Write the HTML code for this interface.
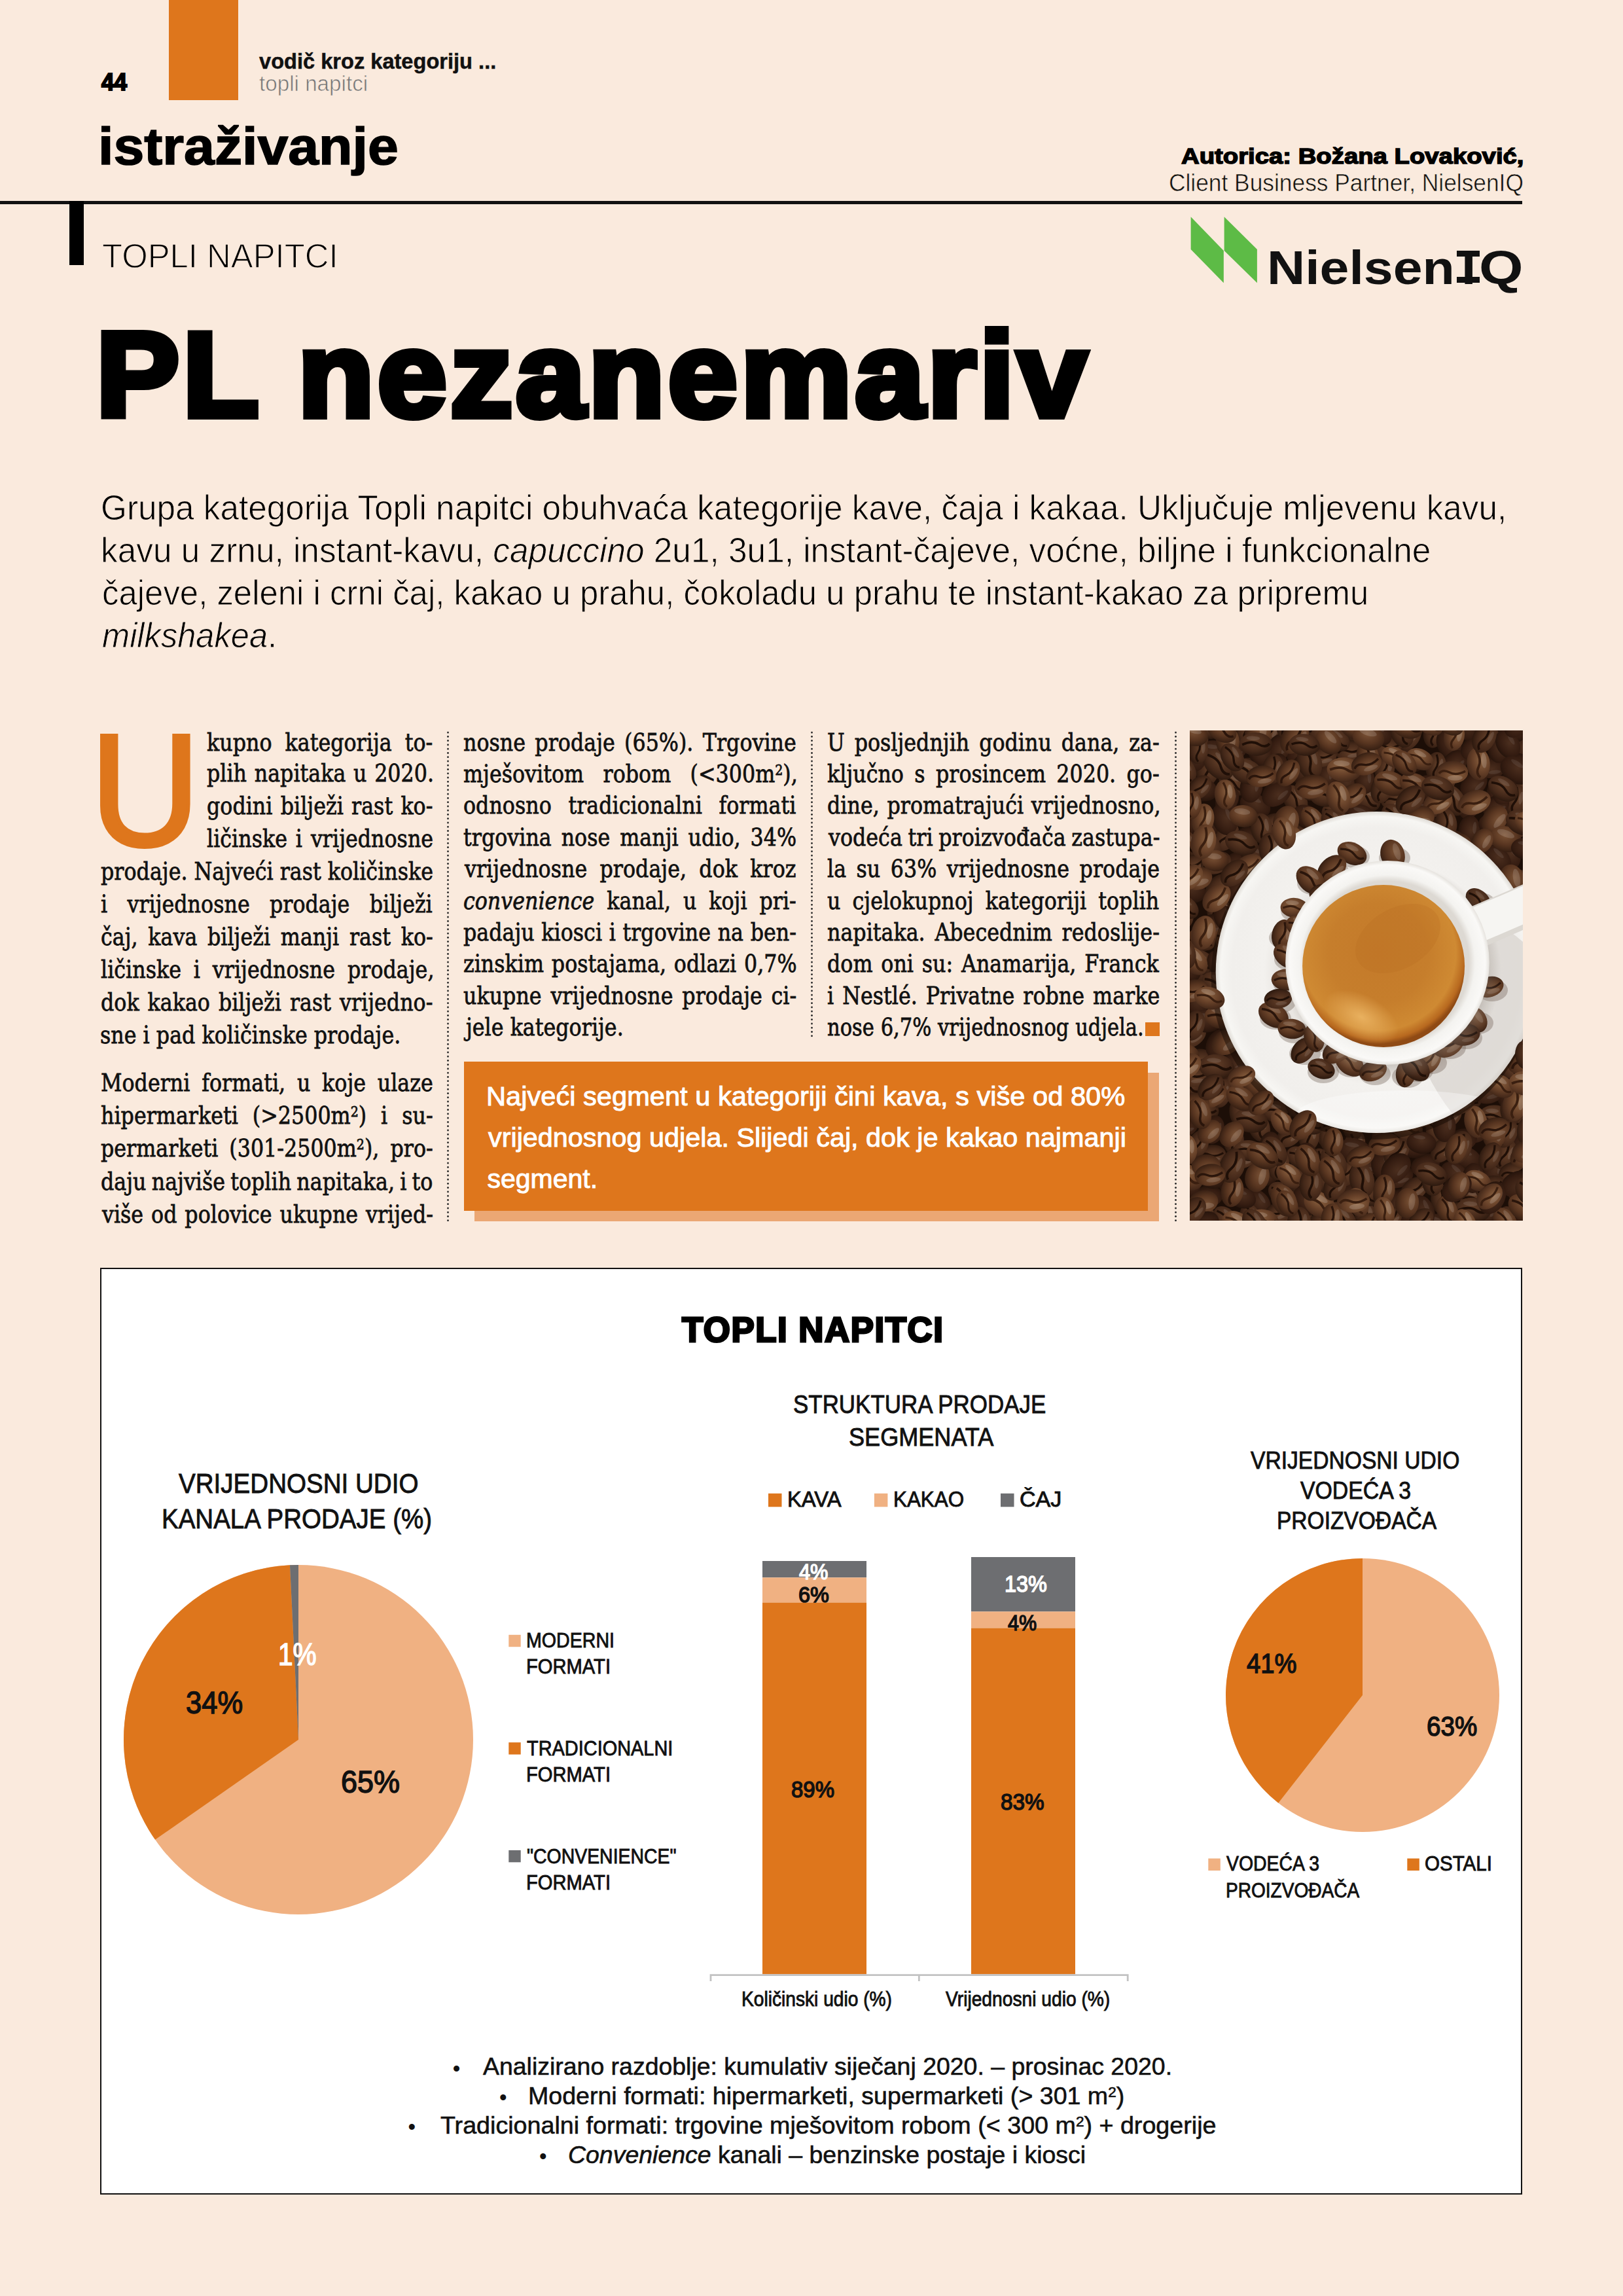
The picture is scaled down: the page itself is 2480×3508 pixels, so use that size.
<!DOCTYPE html>
<html lang="hr"><head><meta charset="utf-8"><title>PL nezanemariv – topli napitci</title>
<style>
html,body{margin:0;padding:0}
body{width:2480px;height:3508px;position:relative;overflow:hidden;background:#FAEADD;}
.t{position:absolute;white-space:nowrap;transform-origin:0 0;margin:0}
.a{position:absolute}
sup{font-size:60%;vertical-align:baseline;position:relative;top:-0.5em;line-height:0}
</style></head><body>
<div class="a" style="left:257.7px;top:0px;width:106.3px;height:153.3px;background:#DE761C;"></div>
<div class="a" style="left:0px;top:307px;width:2326.4px;height:4.6px;background:#111;"></div>
<div class="a" style="left:106px;top:307px;width:22px;height:98px;background:#000;"></div>
<div class="a" style="left:682.5px;top:1115.5px;width:3px;height:752.8px;background:radial-gradient(circle at 50% 50%,#2a2a2a 1.15px,rgba(42,42,42,0) 1.55px) 0 0/3px 6.27px repeat-y"></div>
<div class="a" style="left:1239.1px;top:1115.5px;width:3px;height:470.5px;background:radial-gradient(circle at 50% 50%,#2a2a2a 1.15px,rgba(42,42,42,0) 1.55px) 0 0/3px 6.27px repeat-y"></div>
<div class="a" style="left:1795.2px;top:1115.5px;width:3px;height:752.8px;background:radial-gradient(circle at 50% 50%,#2a2a2a 1.15px,rgba(42,42,42,0) 1.55px) 0 0/3px 6.27px repeat-y"></div>
<div class="a" style="left:725px;top:1638.5px;width:1046px;height:227.8px;background:#EBA774;"></div>
<div class="a" style="left:708.8px;top:1621.8px;width:1045.3px;height:228px;background:#DE761C;"></div>
<div class="a" style="left:1750.2px;top:1562px;width:21.6px;height:21.1px;background:#DE761C;"></div>
<svg class="a" style="left:1810px;top:325px" width="120" height="115" viewBox="1810 325 120 115"><polygon points="1819.6,331.2 1869.8,383 1869.8,432.2 1819.6,381.1" fill="#5DBB46"/><polygon points="1870.6,331.2 1920.9,381.1 1920.9,432.2 1870.6,383" fill="#5DBB46"/></svg>
<div class="a" style="left:2226px;top:383px;width:35.4px;height:9.4px;background:#111;"></div>
<div class="a" style="left:2226px;top:423px;width:35.4px;height:9.4px;background:#111;"></div>
<div class="a" style="left:153.3px;top:1936.8px;width:2168.5px;height:1412.5px;background:#fff;border:2.6px solid #111"></div>
<svg class="a" style="left:0;top:1900px" width="2480" height="1500" viewBox="0 1900 2480 1500"><circle cx="456" cy="2658" r="267" fill="#F0B182"/><path d="M456 2658L237.07 2810.84A267 267 0 0 1 442.96 2391.32Z" fill="#DE761C"/><path d="M456 2658L442.96 2391.32A267 267 0 0 1 456.00 2391.00Z" fill="#6D6E71"/><circle cx="2082" cy="2590" r="209" fill="#F0B182"/><path d="M2082 2590L1953.33 2754.69A209 209 0 0 1 2082.00 2381.00Z" fill="#DE761C"/><rect x="1165" y="2385" width="159" height="25.3" fill="#6D6E71"/><rect x="1165" y="2410.3" width="159" height="38.2" fill="#F0B182"/><rect x="1165" y="2448.5" width="159" height="567.9000000000001" fill="#DE761C"/><rect x="1484" y="2379" width="159" height="83.3" fill="#6D6E71"/><rect x="1484" y="2462.3" width="159" height="25.2" fill="#F0B182"/><rect x="1484" y="2487.5" width="159" height="528.9000000000001" fill="#DE761C"/><path d="M1086 3027V3017.6H1723.2V3027M1404.3 3017.6V3027" fill="none" stroke="#C2C2C2" stroke-width="2.8"/><rect x="777.3" y="2497.8" width="18.4" height="18.4" fill="#F0B182"/><rect x="777.3" y="2662.2" width="18.4" height="18.4" fill="#DE761C"/><rect x="777.3" y="2826.9" width="18.4" height="18.4" fill="#6D6E71"/><rect x="1174" y="2281.8" width="20.5" height="20.5" fill="#DE761C"/><rect x="1335.9" y="2281.8" width="20.5" height="20.5" fill="#F0B182"/><rect x="1529" y="2281.8" width="20.5" height="20.5" fill="#6D6E71"/><rect x="1846.3" y="2839.5" width="18.5" height="18.5" fill="#F0B182"/><rect x="2150.3" y="2839.5" width="18.5" height="18.5" fill="#DE761C"/></svg>
<svg class="a" style="left:1818px;top:1116px" width="509" height="749" viewBox="0 0 509 749"><defs>
<radialGradient id="bg1" cx=".42" cy=".36" r=".7"><stop offset="0" stop-color="#7b5336"/><stop offset=".55" stop-color="#583520"/><stop offset="1" stop-color="#301b10"/></radialGradient>
<radialGradient id="bg2" cx=".45" cy=".38" r=".7"><stop offset="0" stop-color="#644029"/><stop offset=".6" stop-color="#442819"/><stop offset="1" stop-color="#24140b"/></radialGradient>
<radialGradient id="bg3" cx=".4" cy=".35" r=".75"><stop offset="0" stop-color="#8c6341"/><stop offset=".5" stop-color="#664028"/><stop offset="1" stop-color="#382014"/></radialGradient>
<radialGradient id="bg4" cx=".5" cy=".4" r=".7"><stop offset="0" stop-color="#4b2e1e"/><stop offset=".6" stop-color="#341c11"/><stop offset="1" stop-color="#1c0f08"/></radialGradient>
<g id="b1"><ellipse rx="17" ry="12" fill="url(#bg1)"/><path d="M-14 1Q-4 -4 3 0T14 -1" stroke="#2a150b" stroke-width="2.4" fill="none"/><ellipse cx="-3" cy="-6" rx="8" ry="2.6" fill="#fff" opacity=".13"/></g>
<g id="b2"><ellipse rx="17" ry="12" fill="url(#bg2)"/><path d="M-14 1Q-4 -4 3 0T14 -1" stroke="#1f0f07" stroke-width="2.4" fill="none"/><ellipse cx="-3" cy="-6" rx="7" ry="2.2" fill="#fff" opacity=".10"/></g>
<g id="b3"><ellipse rx="17" ry="12" fill="url(#bg3)"/><path d="M-14 1Q-4 -4 3 0T14 -1" stroke="#3a1f10" stroke-width="2.4" fill="none"/><ellipse cx="-3" cy="-6" rx="8" ry="2.8" fill="#fff" opacity=".16"/></g>
<g id="b4"><ellipse rx="17" ry="12.5" fill="url(#bg4)"/><ellipse cx="-3" cy="-6" rx="7" ry="2.2" fill="#fff" opacity=".08"/></g>
<g id="b5"><ellipse rx="16" ry="12.5" fill="url(#bg1)"/><ellipse cx="-2" cy="-5" rx="9" ry="3.4" fill="#fff" opacity=".14"/></g>
<radialGradient id="sau" cx=".5" cy=".5" r=".5"><stop offset="0" stop-color="#e3e0db"/><stop offset=".62" stop-color="#e9e6e2"/><stop offset=".70" stop-color="#f3f1ee"/><stop offset=".9" stop-color="#f1efec"/><stop offset=".97" stop-color="#f7f6f3"/><stop offset="1" stop-color="#dedad4"/></radialGradient>
<radialGradient id="cupg" cx=".5" cy=".5" r=".5"><stop offset="0" stop-color="#d9d5cf"/><stop offset=".80" stop-color="#ddd9d3"/><stop offset=".86" stop-color="#f4f3f0"/><stop offset=".96" stop-color="#faf9f7"/><stop offset="1" stop-color="#e6e3de"/></radialGradient>
<radialGradient id="cof" cx=".47" cy=".42" r=".56"><stop offset="0" stop-color="#c47a2a"/><stop offset=".55" stop-color="#c67e2c"/><stop offset=".85" stop-color="#cf8a33"/><stop offset=".95" stop-color="#b8691f"/><stop offset="1" stop-color="#8f4a14"/></radialGradient>
<radialGradient id="hl" cx=".5" cy=".5" r=".5"><stop offset="0" stop-color="#eeb867" stop-opacity=".85"/><stop offset="1" stop-color="#eeb867" stop-opacity="0"/></radialGradient>
<radialGradient id="shd" cx=".5" cy=".5" r=".5"><stop offset=".8" stop-color="#8a8178" stop-opacity=".45"/><stop offset="1" stop-color="#8a8178" stop-opacity="0"/></radialGradient>
<clipPath id="pc"><rect x="0" y="0" width="509" height="749"/></clipPath>
<clipPath id="sc"><circle cx="285.2" cy="369.5" r="245.5"/></clipPath>
</defs><g clip-path="url(#pc)"><rect width="509" height="749" fill="#1c0e07"/><use href="#b2" transform="translate(161 106)rotate(57)scale(1.42)"/><use href="#b4" transform="translate(334 46)rotate(13)scale(1.48)"/><use href="#b4" transform="translate(21 380)rotate(47)scale(1.48)"/><use href="#b2" transform="translate(10 323)rotate(7)scale(1.37)"/><use href="#b2" transform="translate(27 60)rotate(96)scale(1.46)"/><use href="#b2" transform="translate(215 626)rotate(42)scale(1.36)"/><use href="#b2" transform="translate(55 162)rotate(126)scale(1.45)"/><use href="#b4" transform="translate(322 719)rotate(170)scale(1.45)"/><use href="#b4" transform="translate(506 26)rotate(90)scale(1.32)"/><use href="#b4" transform="translate(444 213)rotate(109)scale(1.35)"/><use href="#b2" transform="translate(66 81)rotate(34)scale(1.38)"/><use href="#b2" transform="translate(153 618)rotate(139)scale(1.33)"/><use href="#b4" transform="translate(280 38)rotate(27)scale(1.38)"/><use href="#b4" transform="translate(22 148)rotate(15)scale(1.26)"/><use href="#b4" transform="translate(268 663)rotate(168)scale(1.48)"/><use href="#b2" transform="translate(509 81)rotate(51)scale(1.42)"/><use href="#b2" transform="translate(11 504)rotate(164)scale(1.41)"/><use href="#b2" transform="translate(434 716)rotate(7)scale(1.28)"/><use href="#b2" transform="translate(22 529)rotate(114)scale(1.49)"/><use href="#b4" transform="translate(332 754)rotate(142)scale(1.33)"/><use href="#b2" transform="translate(21 581)rotate(2)scale(1.39)"/><use href="#b2" transform="translate(197 660)rotate(93)scale(1.26)"/><use href="#b4" transform="translate(423 654)rotate(23)scale(1.37)"/><use href="#b2" transform="translate(497 106)rotate(101)scale(1.41)"/><use href="#b4" transform="translate(83 168)rotate(135)scale(1.41)"/><use href="#b2" transform="translate(494 521)rotate(48)scale(1.38)"/><use href="#b2" transform="translate(466 590)rotate(3)scale(1.46)"/><use href="#b4" transform="translate(45 478)rotate(126)scale(1.46)"/><use href="#b4" transform="translate(100 115)rotate(25)scale(1.43)"/><use href="#b4" transform="translate(170 30)rotate(138)scale(1.48)"/><use href="#b2" transform="translate(-10 106)rotate(94)scale(1.25)"/><use href="#b2" transform="translate(44 270)rotate(118)scale(1.34)"/><use href="#b2" transform="translate(3 662)rotate(143)scale(1.48)"/><use href="#b2" transform="translate(315 104)rotate(165)scale(1.39)"/><use href="#b2" transform="translate(183 84)rotate(86)scale(1.36)"/><use href="#b2" transform="translate(439 754)rotate(35)scale(1.31)"/><use href="#b4" transform="translate(428 114)rotate(119)scale(1.32)"/><use href="#b2" transform="translate(2 721)rotate(48)scale(1.47)"/><use href="#b2" transform="translate(269 103)rotate(40)scale(1.47)"/><use href="#b4" transform="translate(277 11)rotate(60)scale(1.44)"/><use href="#b2" transform="translate(269 742)rotate(77)scale(1.39)"/><use href="#b4" transform="translate(447 525)rotate(150)scale(1.36)"/><use href="#b2" transform="translate(78 584)rotate(81)scale(1.45)"/><use href="#b2" transform="translate(164 162)rotate(160)scale(1.40)"/><use href="#b4" transform="translate(441 610)rotate(135)scale(1.36)"/><use href="#b2" transform="translate(423 559)rotate(32)scale(1.44)"/><use href="#b2" transform="translate(5 205)rotate(158)scale(1.28)"/><use href="#b2" transform="translate(486 750)rotate(80)scale(1.36)"/><use href="#b4" transform="translate(495 270)rotate(50)scale(1.49)"/><use href="#b4" transform="translate(320 682)rotate(158)scale(1.30)"/><use href="#b2" transform="translate(335 605)rotate(96)scale(1.41)"/><use href="#b2" transform="translate(202 718)rotate(123)scale(1.42)"/><use href="#b4" transform="translate(373 121)rotate(113)scale(1.48)"/><use href="#b4" transform="translate(57 106)rotate(118)scale(1.34)"/><use href="#b2" transform="translate(67 626)rotate(90)scale(1.31)"/><use href="#b2" transform="translate(509 495)rotate(82)scale(1.42)"/><use href="#b4" transform="translate(59 1)rotate(136)scale(1.35)"/><use href="#b2" transform="translate(269 708)rotate(41)scale(1.31)"/><use href="#b4" transform="translate(427 152)rotate(95)scale(1.32)"/><use href="#b4" transform="translate(123 215)rotate(152)scale(1.34)"/><use href="#b4" transform="translate(59 690)rotate(78)scale(1.29)"/><use href="#b2" transform="translate(223 131)rotate(35)scale(1.38)"/><use href="#b4" transform="translate(-8 605)rotate(160)scale(1.27)"/><use href="#b2" transform="translate(284 593)rotate(177)scale(1.36)"/><use href="#b4" transform="translate(46 421)rotate(83)scale(1.44)"/><use href="#b4" transform="translate(243 714)rotate(98)scale(1.47)"/><use href="#b4" transform="translate(360 664)rotate(159)scale(1.33)"/><use href="#b4" transform="translate(488 190)rotate(65)scale(1.32)"/><use href="#b2" transform="translate(54 330)rotate(123)scale(1.26)"/><use href="#b2" transform="translate(28 175)rotate(57)scale(1.46)"/><use href="#b4" transform="translate(405 680)rotate(43)scale(1.45)"/><use href="#b2" transform="translate(72 541)rotate(59)scale(1.42)"/><use href="#b4" transform="translate(457 734)rotate(134)scale(1.29)"/><use href="#b4" transform="translate(106 722)rotate(56)scale(1.27)"/><use href="#b4" transform="translate(514 630)rotate(169)scale(1.39)"/><use href="#b2" transform="translate(94 235)rotate(99)scale(1.50)"/><use href="#b2" transform="translate(372 5)rotate(95)scale(1.28)"/><use href="#b4" transform="translate(-0 245)rotate(16)scale(1.47)"/><use href="#b2" transform="translate(24 748)rotate(83)scale(1.38)"/><use href="#b2" transform="translate(407 737)rotate(176)scale(1.35)"/><use href="#b4" transform="translate(133 90)rotate(83)scale(1.30)"/><use href="#b2" transform="translate(213 691)rotate(56)scale(1.47)"/><use href="#b2" transform="translate(423 189)rotate(16)scale(1.35)"/><use href="#b4" transform="translate(37 34)rotate(6)scale(1.49)"/><use href="#b4" transform="translate(28 712)rotate(174)scale(1.33)"/><use href="#b2" transform="translate(34 648)rotate(176)scale(1.25)"/><use href="#b2" transform="translate(255 127)rotate(36)scale(1.27)"/><use href="#b4" transform="translate(174 4)rotate(43)scale(1.42)"/><use href="#b2" transform="translate(122 2)rotate(121)scale(1.33)"/><use href="#b2" transform="translate(252 632)rotate(100)scale(1.33)"/><use href="#b4" transform="translate(19 90)rotate(16)scale(1.41)"/><use href="#b4" transform="translate(139 176)rotate(96)scale(1.32)"/><use href="#b4" transform="translate(505 411)rotate(163)scale(1.43)"/><use href="#b2" transform="translate(-9 283)rotate(96)scale(1.27)"/><use href="#b4" transform="translate(37 297)rotate(173)scale(1.31)"/><use href="#b2" transform="translate(12 7)rotate(75)scale(1.34)"/><use href="#b2" transform="translate(13 632)rotate(113)scale(1.27)"/><use href="#b2" transform="translate(378 615)rotate(54)scale(1.26)"/><use href="#b2" transform="translate(64 393)rotate(21)scale(1.44)"/><use href="#b4" transform="translate(416 626)rotate(163)scale(1.38)"/><use href="#b2" transform="translate(249 -7)rotate(80)scale(1.49)"/><use href="#b4" transform="translate(376 148)rotate(178)scale(1.29)"/><use href="#b4" transform="translate(237 81)rotate(39)scale(1.44)"/><use href="#b4" transform="translate(463 143)rotate(1)scale(1.29)"/><use href="#b2" transform="translate(507 710)rotate(35)scale(1.39)"/><use href="#b4" transform="translate(112 680)rotate(7)scale(1.29)"/><use href="#b4" transform="translate(-8 368)rotate(10)scale(1.48)"/><use href="#b2" transform="translate(-9 567)rotate(90)scale(1.37)"/><use href="#b4" transform="translate(434 82)rotate(137)scale(1.37)"/><use href="#b2" transform="translate(518 443)rotate(179)scale(1.27)"/><use href="#b4" transform="translate(136 27)rotate(118)scale(1.38)"/><use href="#b2" transform="translate(141 709)rotate(37)scale(1.37)"/><use href="#b4" transform="translate(148 558)rotate(113)scale(1.39)"/><use href="#b4" transform="translate(92 60)rotate(11)scale(1.43)"/><use href="#b4" transform="translate(171 60)rotate(98)scale(1.35)"/><use href="#b2" transform="translate(452 7)rotate(26)scale(1.43)"/><use href="#b4" transform="translate(301 -10)rotate(161)scale(1.30)"/><use href="#b2" transform="translate(195 162)rotate(3)scale(1.47)"/><use href="#b2" transform="translate(343 701)rotate(143)scale(1.36)"/><use href="#b2" transform="translate(503 230)rotate(27)scale(1.43)"/><use href="#b2" transform="translate(107 575)rotate(169)scale(1.35)"/><use href="#b2" transform="translate(67 293)rotate(32)scale(1.26)"/><use href="#b4" transform="translate(65 30)rotate(159)scale(1.37)"/><use href="#b4" transform="translate(465 669)rotate(113)scale(1.42)"/><use href="#b4" transform="translate(378 757)rotate(27)scale(1.37)"/><use href="#b2" transform="translate(500 149)rotate(153)scale(1.29)"/><use href="#b2" transform="translate(16 354)rotate(27)scale(1.48)"/><use href="#b4" transform="translate(396 21)rotate(66)scale(1.45)"/><use href="#b4" transform="translate(8 38)rotate(90)scale(1.45)"/><use href="#b2" transform="translate(497 464)rotate(146)scale(1.31)"/><use href="#b4" transform="translate(404 51)rotate(130)scale(1.37)"/><use href="#b4" transform="translate(8 415)rotate(62)scale(1.37)"/><use href="#b2" transform="translate(162 744)rotate(178)scale(1.47)"/><use href="#b4" transform="translate(130 55)rotate(130)scale(1.29)"/><use href="#b2" transform="translate(386 641)rotate(129)scale(1.27)"/><use href="#b4" transform="translate(341 83)rotate(16)scale(1.34)"/><use href="#b2" transform="translate(200 753)rotate(138)scale(1.44)"/><use href="#b4" transform="translate(53 136)rotate(66)scale(1.48)"/><use href="#b4" transform="translate(335 146)rotate(87)scale(1.29)"/><use href="#b4" transform="translate(67 208)rotate(110)scale(1.29)"/><use href="#b2" transform="translate(48 367)rotate(129)scale(1.34)"/><use href="#b4" transform="translate(94 87)rotate(99)scale(1.38)"/><use href="#b2" transform="translate(245 31)rotate(172)scale(1.33)"/><use href="#b2" transform="translate(2 466)rotate(148)scale(1.47)"/><use href="#b2" transform="translate(394 590)rotate(145)scale(1.40)"/><use href="#b2" transform="translate(92 745)rotate(77)scale(1.31)"/><use href="#b4" transform="translate(100 192)rotate(27)scale(1.37)"/><use href="#b4" transform="translate(297 669)rotate(58)scale(1.43)"/><use href="#b4" transform="translate(181 578)rotate(4)scale(1.38)"/><use href="#b2" transform="translate(335 7)rotate(117)scale(1.46)"/><use href="#b2" transform="translate(302 147)rotate(179)scale(1.26)"/><use href="#b4" transform="translate(486 554)rotate(98)scale(1.37)"/><use href="#b2" transform="translate(384 716)rotate(88)scale(1.32)"/><use href="#b4" transform="translate(25 444)rotate(3)scale(1.40)"/><use href="#b2" transform="translate(182 619)rotate(91)scale(1.36)"/><use href="#b2" transform="translate(221 584)rotate(114)scale(1.30)"/><use href="#b4" transform="translate(-9 145)rotate(14)scale(1.26)"/><use href="#b2" transform="translate(250 603)rotate(95)scale(1.38)"/><use href="#b4" transform="translate(461 56)rotate(174)scale(1.36)"/><use href="#b4" transform="translate(458 173)rotate(14)scale(1.40)"/><use href="#b2" transform="translate(510 601)rotate(166)scale(1.40)"/><use href="#b4" transform="translate(65 454)rotate(34)scale(1.32)"/><use href="#b2" transform="translate(87 493)rotate(147)scale(1.42)"/><use href="#b2" transform="translate(101 516)rotate(35)scale(1.35)"/><use href="#b2" transform="translate(55 747)rotate(48)scale(1.34)"/><use href="#b2" transform="translate(106 606)rotate(72)scale(1.35)"/><use href="#b2" transform="translate(481 647)rotate(112)scale(1.43)"/><use href="#b2" transform="translate(312 591)rotate(117)scale(1.38)"/><use href="#b4" transform="translate(342 636)rotate(4)scale(1.41)"/><use href="#b2" transform="translate(169 653)rotate(29)scale(1.32)"/><use href="#b2" transform="translate(509 356)rotate(134)scale(1.34)"/><use href="#b4" transform="translate(208 68)rotate(105)scale(1.31)"/><use href="#b2" transform="translate(376 55)rotate(98)scale(1.30)"/><use href="#b2" transform="translate(78 652)rotate(171)scale(1.45)"/><use href="#b4" transform="translate(36 610)rotate(106)scale(1.31)"/><use href="#b2" transform="translate(398 169)rotate(178)scale(1.45)"/><use href="#b2" transform="translate(491 580)rotate(87)scale(1.39)"/><use href="#b4" transform="translate(433 26)rotate(135)scale(1.27)"/><use href="#b2" transform="translate(46 239)rotate(143)scale(1.45)"/><use href="#b4" transform="translate(107 34)rotate(65)scale(1.36)"/><use href="#b2" transform="translate(158 685)rotate(44)scale(1.41)"/><use href="#b2" transform="translate(126 145)rotate(157)scale(1.43)"/><use href="#b2" transform="translate(72 249)rotate(140)scale(1.38)"/><use href="#b2" transform="translate(316 644)rotate(128)scale(1.40)"/><use href="#b4" transform="translate(474 88)rotate(138)scale(1.33)"/><use href="#b2" transform="translate(298 58)rotate(103)scale(1.27)"/><use href="#b2" transform="translate(477 239)rotate(139)scale(1.35)"/><use href="#b4" transform="translate(176 719)rotate(62)scale(1.38)"/><use href="#b4" transform="translate(517 254)rotate(29)scale(1.32)"/><use href="#b4" transform="translate(180 133)rotate(33)scale(1.40)"/><use href="#b2" transform="translate(203 40)rotate(164)scale(1.31)"/><use href="#b2" transform="translate(133 583)rotate(10)scale(1.38)"/><use href="#b2" transform="translate(515 567)rotate(131)scale(1.28)"/><use href="#b2" transform="translate(476 486)rotate(113)scale(1.40)"/><use href="#b2" transform="translate(224 736)rotate(2)scale(1.29)"/><use href="#b4" transform="translate(468 116)rotate(149)scale(1.26)"/><use href="#b2" transform="translate(223 654)rotate(31)scale(1.40)"/><use href="#b2" transform="translate(390 78)rotate(114)scale(1.29)"/><use href="#b4" transform="translate(492 1)rotate(23)scale(1.30)"/><use href="#b2" transform="translate(302 24)rotate(179)scale(1.29)"/><use href="#b2" transform="translate(297 749)rotate(180)scale(1.39)"/><use href="#b2" transform="translate(366 577)rotate(141)scale(1.44)"/><use href="#b2" transform="translate(47 554)rotate(105)scale(1.35)"/><use href="#b4" transform="translate(-5 691)rotate(54)scale(1.46)"/><use href="#b4" transform="translate(457 552)rotate(165)scale(1.44)"/><use href="#b2" transform="translate(207 100)rotate(4)scale(1.40)"/><use href="#b2" transform="translate(518 -6)rotate(68)scale(1.27)"/><use href="#b4" transform="translate(471 28)rotate(82)scale(1.29)"/><use href="#b2" transform="translate(241 675)rotate(127)scale(1.42)"/><use href="#b4" transform="translate(-7 750)rotate(25)scale(1.39)"/><use href="#b4" transform="translate(341 116)rotate(138)scale(1.40)"/><use href="#b4" transform="translate(80 714)rotate(19)scale(1.27)"/><use href="#b4" transform="translate(123 635)rotate(92)scale(1.30)"/><use href="#b4" transform="translate(54 515)rotate(160)scale(1.40)"/><use href="#b2" transform="translate(494 675)rotate(164)scale(1.31)"/><use href="#b2" transform="translate(294 625)rotate(77)scale(1.28)"/><use href="#b4" transform="translate(509 326)rotate(104)scale(1.37)"/><use href="#b2" transform="translate(200 -4)rotate(161)scale(1.26)"/><use href="#b2" transform="translate(459 698)rotate(157)scale(1.39)"/><use href="#b4" transform="translate(355 734)rotate(67)scale(1.46)"/><use href="#b4" transform="translate(267 76)rotate(88)scale(1.26)"/><use href="#b2" transform="translate(85 -2)rotate(89)scale(1.41)"/><use href="#b4" transform="translate(30 680)rotate(29)scale(1.48)"/><use href="#b4" transform="translate(130 537)rotate(111)scale(1.49)"/><use href="#b2" transform="translate(484 616)rotate(115)scale(1.33)"/><use href="#b2" transform="translate(40 202)rotate(161)scale(1.40)"/><use href="#b4" transform="translate(496 53)rotate(140)scale(1.26)"/><use href="#b2" transform="translate(293 89)rotate(105)scale(1.35)"/><use href="#b2" transform="translate(-4 172)rotate(54)scale(1.30)"/><use href="#b2" transform="translate(402 107)rotate(60)scale(1.48)"/><use href="#b2" transform="translate(296 708)rotate(106)scale(1.26)"/><use href="#b2" transform="translate(-8 61)rotate(60)scale(1.35)"/><use href="#b4" transform="translate(367 91)rotate(61)scale(1.41)"/><use href="#b4" transform="translate(519 291)rotate(84)scale(1.35)"/><use href="#b4" transform="translate(99 545)rotate(153)scale(1.31)"/><use href="#b4" transform="translate(514 758)rotate(54)scale(1.34)"/><use href="#b4" transform="translate(433 684)rotate(94)scale(1.35)"/><use href="#b2" transform="translate(134 737)rotate(156)scale(1.28)"/><use href="#b2" transform="translate(-3 540)rotate(42)scale(1.37)"/><use href="#b2" transform="translate(371 688)rotate(87)scale(1.37)"/><use href="#b2" transform="translate(225 14)rotate(36)scale(1.27)"/><use href="#b2" transform="translate(135 663)rotate(95)scale(1.43)"/><use href="#b2" transform="translate(150 -9)rotate(120)scale(1.28)"/><use href="#b4" transform="translate(423 -8)rotate(86)scale(1.36)"/><use href="#b2" transform="translate(306 747)rotate(132)scale(1.26)"/><use href="#b1" transform="translate(407 173)rotate(173)scale(1.34)"/><use href="#b5" transform="translate(249 597)rotate(128)scale(1.33)"/><use href="#b5" transform="translate(147 140)rotate(106)scale(1.57)"/><use href="#b5" transform="translate(39 199)rotate(6)scale(1.30)"/><use href="#b1" transform="translate(144 718)rotate(63)scale(1.54)"/><use href="#b4" transform="translate(74 251)rotate(73)scale(1.49)"/><use href="#b3" transform="translate(152 680)rotate(42)scale(1.33)"/><use href="#b4" transform="translate(486 21)rotate(59)scale(1.38)"/><use href="#b4" transform="translate(469 197)rotate(44)scale(1.48)"/><use href="#b2" transform="translate(263 687)rotate(76)scale(1.57)"/><use href="#b3" transform="translate(404 9)rotate(101)scale(1.31)"/><use href="#b2" transform="translate(433 733)rotate(4)scale(1.59)"/><use href="#b2" transform="translate(-6 270)rotate(38)scale(1.28)"/><use href="#b2" transform="translate(90 642)rotate(5)scale(1.33)"/><use href="#b3" transform="translate(435 110)rotate(160)scale(1.51)"/><use href="#b4" transform="translate(44 357)rotate(59)scale(1.28)"/><use href="#b1" transform="translate(65 704)rotate(100)scale(1.43)"/><use href="#b1" transform="translate(297 632)rotate(168)scale(1.43)"/><use href="#b1" transform="translate(307 81)rotate(19)scale(1.52)"/><use href="#b5" transform="translate(212 17)rotate(46)scale(1.37)"/><use href="#b5" transform="translate(-9 112)rotate(37)scale(1.27)"/><use href="#b3" transform="translate(111 749)rotate(4)scale(1.45)"/><use href="#b4" transform="translate(261 131)rotate(18)scale(1.40)"/><use href="#b3" transform="translate(401 64)rotate(179)scale(1.44)"/><use href="#b1" transform="translate(160 11)rotate(124)scale(1.59)"/><use href="#b1" transform="translate(512 649)rotate(151)scale(1.41)"/><use href="#b5" transform="translate(466 136)rotate(129)scale(1.45)"/><use href="#b2" transform="translate(183 601)rotate(21)scale(1.30)"/><use href="#b2" transform="translate(369 678)rotate(18)scale(1.45)"/><use href="#b1" transform="translate(35 558)rotate(150)scale(1.40)"/><use href="#b4" transform="translate(133 95)rotate(139)scale(1.49)"/><use href="#b2" transform="translate(508 452)rotate(63)scale(1.57)"/><use href="#b3" transform="translate(497 571)rotate(100)scale(1.54)"/><use href="#b1" transform="translate(4 573)rotate(172)scale(1.56)"/><use href="#b4" transform="translate(389 605)rotate(89)scale(1.41)"/><use href="#b3" transform="translate(199 725)rotate(31)scale(1.55)"/><use href="#b3" transform="translate(20 136)rotate(99)scale(1.43)"/><use href="#b2" transform="translate(93 596)rotate(9)scale(1.55)"/><use href="#b1" transform="translate(19 319)rotate(34)scale(1.26)"/><use href="#b2" transform="translate(167 754)rotate(90)scale(1.54)"/><use href="#b5" transform="translate(106 543)rotate(31)scale(1.55)"/><use href="#b3" transform="translate(474 543)rotate(32)scale(1.37)"/><use href="#b2" transform="translate(183 49)rotate(74)scale(1.56)"/><use href="#b1" transform="translate(469 504)rotate(108)scale(1.54)"/><use href="#b1" transform="translate(188 136)rotate(52)scale(1.28)"/><use href="#b5" transform="translate(30 613)rotate(136)scale(1.27)"/><use href="#b2" transform="translate(324 3)rotate(67)scale(1.42)"/><use href="#b1" transform="translate(248 100)rotate(144)scale(1.39)"/><use href="#b3" transform="translate(330 605)rotate(25)scale(1.60)"/><use href="#b3" transform="translate(21 170)rotate(102)scale(1.58)"/><use href="#b1" transform="translate(272 40)rotate(80)scale(1.42)"/><use href="#b1" transform="translate(78 562)rotate(33)scale(1.42)"/><use href="#b5" transform="translate(21 720)rotate(173)scale(1.40)"/><use href="#b4" transform="translate(499 61)rotate(34)scale(1.55)"/><use href="#b5" transform="translate(104 2)rotate(93)scale(1.60)"/><use href="#b4" transform="translate(315 669)rotate(134)scale(1.54)"/><use href="#b2" transform="translate(313 134)rotate(52)scale(1.44)"/><use href="#b2" transform="translate(353 749)rotate(137)scale(1.31)"/><use href="#b2" transform="translate(15 87)rotate(133)scale(1.25)"/><use href="#b3" transform="translate(440 688)rotate(24)scale(1.26)"/><use href="#b2" transform="translate(44 52)rotate(45)scale(1.60)"/><use href="#b2" transform="translate(234 747)rotate(45)scale(1.41)"/><use href="#b2" transform="translate(79 172)rotate(18)scale(1.51)"/><use href="#b4" transform="translate(180 651)rotate(77)scale(1.27)"/><use href="#b5" transform="translate(492 230)rotate(81)scale(1.58)"/><use href="#b3" transform="translate(72 753)rotate(31)scale(1.40)"/><use href="#b4" transform="translate(74 506)rotate(175)scale(1.37)"/><use href="#b3" transform="translate(352 44)rotate(27)scale(1.29)"/><use href="#b4" transform="translate(501 693)rotate(158)scale(1.54)"/><use href="#b3" transform="translate(437 598)rotate(78)scale(1.45)"/><use href="#b2" transform="translate(222 696)rotate(115)scale(1.38)"/><use href="#b3" transform="translate(441 51)rotate(85)scale(1.48)"/><use href="#b2" transform="translate(450 11)rotate(117)scale(1.43)"/><use href="#b1" transform="translate(186 86)rotate(171)scale(1.52)"/><use href="#b5" transform="translate(12 226)rotate(165)scale(1.41)"/><use href="#b3" transform="translate(236 60)rotate(4)scale(1.56)"/><use href="#b2" transform="translate(185 694)rotate(91)scale(1.46)"/><use href="#b4" transform="translate(482 94)rotate(129)scale(1.26)"/><use href="#b1" transform="translate(48 438)rotate(8)scale(1.50)"/><use href="#b2" transform="translate(392 142)rotate(81)scale(1.35)"/><use href="#b3" transform="translate(89 208)rotate(149)scale(1.41)"/><use href="#b2" transform="translate(412 637)rotate(112)scale(1.53)"/><use href="#b3" transform="translate(-5 682)rotate(26)scale(1.58)"/><use href="#b2" transform="translate(65 665)rotate(111)scale(1.58)"/><use href="#b2" transform="translate(13 30)rotate(94)scale(1.26)"/><use href="#b2" transform="translate(42 390)rotate(32)scale(1.55)"/><use href="#b2" transform="translate(7 527)rotate(174)scale(1.48)"/><use href="#b5" transform="translate(25 665)rotate(180)scale(1.39)"/><use href="#b2" transform="translate(127 59)rotate(99)scale(1.36)"/><use href="#b3" transform="translate(7 352)rotate(51)scale(1.43)"/><use href="#b1" transform="translate(269 757)rotate(137)scale(1.36)"/><use href="#b3" transform="translate(379 110)rotate(152)scale(1.39)"/><use href="#b1" transform="translate(482 750)rotate(54)scale(1.34)"/><use href="#b1" transform="translate(509 260)rotate(13)scale(1.38)"/><use href="#b3" transform="translate(54 98)rotate(85)scale(1.34)"/><use href="#b2" transform="translate(110 150)rotate(80)scale(1.40)"/><use href="#b4" transform="translate(251 643)rotate(9)scale(1.56)"/><use href="#b5" transform="translate(465 618)rotate(92)scale(1.40)"/><use href="#b2" transform="translate(459 651)rotate(116)scale(1.34)"/><use href="#b2" transform="translate(414 569)rotate(152)scale(1.38)"/><use href="#b3" transform="translate(141 599)rotate(56)scale(1.26)"/><use href="#b4" transform="translate(21 756)rotate(146)scale(1.51)"/><use href="#b2" transform="translate(515 316)rotate(30)scale(1.55)"/><use href="#b2" transform="translate(87 63)rotate(25)scale(1.53)"/><use href="#b5" transform="translate(483 166)rotate(21)scale(1.54)"/><use href="#b2" transform="translate(123 181)rotate(87)scale(1.46)"/><use href="#b2" transform="translate(508 141)rotate(23)scale(1.53)"/><use href="#b5" transform="translate(-6 452)rotate(54)scale(1.31)"/><use href="#b1" transform="translate(393 733)rotate(70)scale(1.31)"/><use href="#b4" transform="translate(513 181)rotate(10)scale(1.31)"/><use href="#b5" transform="translate(56 476)rotate(148)scale(1.50)"/><use href="#b4" transform="translate(288 5)rotate(35)scale(1.30)"/><use href="#b1" transform="translate(510 504)rotate(147)scale(1.53)"/><use href="#b4" transform="translate(462 714)rotate(119)scale(1.55)"/><use href="#b3" transform="translate(-5 640)rotate(87)scale(1.36)"/><use href="#b4" transform="translate(55 288)rotate(58)scale(1.33)"/><use href="#b1" transform="translate(344 83)rotate(23)scale(1.42)"/><use href="#b1" transform="translate(61 321)rotate(24)scale(1.49)"/><use href="#b1" transform="translate(-8 494)rotate(12)scale(1.33)"/><use href="#b5" transform="translate(332 722)rotate(97)scale(1.44)"/><use href="#b2" transform="translate(129 643)rotate(56)scale(1.44)"/><use href="#b5" transform="translate(352 132)rotate(175)scale(1.38)"/><use href="#b2" transform="translate(519 400)rotate(55)scale(1.51)"/><use href="#b4" transform="translate(499 -9)rotate(126)scale(1.29)"/><use href="#b3" transform="translate(257 721)rotate(70)scale(1.33)"/><use href="#b2" transform="translate(161 570)rotate(75)scale(1.30)"/><use href="#b4" transform="translate(408 699)rotate(140)scale(1.49)"/><use href="#b4" transform="translate(354 630)rotate(7)scale(1.34)"/><use href="#b3" transform="translate(514 539)rotate(3)scale(1.57)"/><use href="#b1" transform="translate(4 398)rotate(163)scale(1.39)"/><use href="#b5" transform="translate(58 17)rotate(88)scale(1.43)"/><use href="#b5" transform="translate(82 131)rotate(7)scale(1.36)"/><use href="#b1" transform="translate(510 730)rotate(38)scale(1.53)"/><use href="#b2" transform="translate(41 514)rotate(5)scale(1.59)"/><use href="#b2" transform="translate(517 615)rotate(82)scale(1.41)"/><use href="#b3" transform="translate(157 172)rotate(91)scale(1.47)"/><use href="#b3" transform="translate(41 256)rotate(134)scale(1.48)"/><use href="#b2" transform="translate(221 142)rotate(52)scale(1.44)"/><use href="#b1" transform="translate(297 702)rotate(94)scale(1.39)"/><use href="#b2" transform="translate(215 627)rotate(71)scale(1.35)"/><use href="#b1" transform="translate(297 597)rotate(46)scale(1.32)"/><use href="#b2" transform="translate(29 -3)rotate(10)scale(1.31)"/><use href="#b5" transform="translate(447 169)rotate(120)scale(1.25)"/><use href="#b1" transform="translate(-5 -9)rotate(69)scale(1.45)"/><use href="#b5" transform="translate(251 -6)rotate(36)scale(1.46)"/><use href="#b5" transform="translate(103 682)rotate(105)scale(1.48)"/><use href="#b5" transform="translate(64 617)rotate(130)scale(1.33)"/><use href="#b3" transform="translate(367 -9)rotate(31)scale(1.26)"/><use href="#b5" transform="translate(359 588)rotate(136)scale(1.27)"/><use href="#b2" transform="translate(220 660)rotate(56)scale(1.49)"/><use href="#b3" transform="translate(313 41)rotate(27)scale(1.27)"/><circle cx="281.2" cy="376.5" r="248.5" fill="#1a0d06" opacity=".55"/><circle cx="285.2" cy="369.5" r="245.5" fill="url(#sau)"/><g clip-path="url(#sc)"><ellipse cx="470" cy="470" rx="120" ry="200" fill="#cfcac4" opacity=".55" transform="rotate(-25 470 470)"/><ellipse cx="330" cy="590" rx="170" ry="40" fill="#fff" opacity=".35"/></g><use href="#b2" transform="translate(101 21)rotate(2)scale(1.49)"/><use href="#b1" transform="translate(217 746)rotate(94)scale(1.37)"/><use href="#b3" transform="translate(250 719)rotate(174)scale(1.48)"/><use href="#b2" transform="translate(519 706)rotate(50)scale(1.52)"/><use href="#b2" transform="translate(337 106)rotate(137)scale(1.51)"/><use href="#b1" transform="translate(109 70)rotate(170)scale(1.36)"/><use href="#b1" transform="translate(109 569)rotate(137)scale(1.31)"/><use href="#b1" transform="translate(180 657)rotate(64)scale(1.50)"/><use href="#b1" transform="translate(150 65)rotate(126)scale(1.32)"/><use href="#b1" transform="translate(31 679)rotate(173)scale(1.39)"/><use href="#b1" transform="translate(149 723)rotate(62)scale(1.26)"/><use href="#b1" transform="translate(111 650)rotate(30)scale(1.53)"/><use href="#b1" transform="translate(261 651)rotate(158)scale(1.30)"/><use href="#b3" transform="translate(297 735)rotate(76)scale(1.33)"/><use href="#b5" transform="translate(411 695)rotate(105)scale(1.31)"/><use href="#b3" transform="translate(-1 225)rotate(140)scale(1.41)"/><use href="#b1" transform="translate(270 51)rotate(161)scale(1.40)"/><use href="#b2" transform="translate(6 451)rotate(110)scale(1.38)"/><use href="#b2" transform="translate(479 89)rotate(32)scale(1.46)"/><use href="#b5" transform="translate(7 7)rotate(18)scale(1.32)"/><use href="#b2" transform="translate(32 545)rotate(133)scale(1.36)"/><use href="#b3" transform="translate(458 712)rotate(135)scale(1.35)"/><use href="#b1" transform="translate(398 -9)rotate(29)scale(1.26)"/><use href="#b2" transform="translate(513 496)rotate(83)scale(1.31)"/><use href="#b3" transform="translate(21 309)rotate(101)scale(1.54)"/><use href="#b3" transform="translate(79 529)rotate(156)scale(1.30)"/><use href="#b1" transform="translate(15 585)rotate(73)scale(1.45)"/><use href="#b1" transform="translate(332 -6)rotate(21)scale(1.47)"/><use href="#b2" transform="translate(99 753)rotate(58)scale(1.40)"/><use href="#b1" transform="translate(217 675)rotate(60)scale(1.50)"/><use href="#b3" transform="translate(517 142)rotate(31)scale(1.28)"/><use href="#b2" transform="translate(5 734)rotate(131)scale(1.39)"/><use href="#b3" transform="translate(227 103)rotate(73)scale(1.50)"/><use href="#b1" transform="translate(49 0)rotate(31)scale(1.41)"/><use href="#b2" transform="translate(-9 340)rotate(71)scale(1.48)"/><use href="#b2" transform="translate(68 218)rotate(137)scale(1.42)"/><use href="#b1" transform="translate(219 629)rotate(93)scale(1.29)"/><use href="#b2" transform="translate(65 41)rotate(59)scale(1.36)"/><use href="#b5" transform="translate(514 643)rotate(163)scale(1.38)"/><use href="#b3" transform="translate(144 157)rotate(75)scale(1.46)"/><use href="#b1" transform="translate(407 639)rotate(107)scale(1.39)"/><use href="#b2" transform="translate(379 88)rotate(16)scale(1.50)"/><use href="#b3" transform="translate(-5 514)rotate(142)scale(1.46)"/><use href="#b3" transform="translate(421 753)rotate(64)scale(1.34)"/><use href="#b2" transform="translate(175 22)rotate(7)scale(1.39)"/><use href="#b1" transform="translate(465 609)rotate(164)scale(1.43)"/><use href="#b1" transform="translate(173 603)rotate(128)scale(1.48)"/><use href="#b1" transform="translate(328 50)rotate(48)scale(1.31)"/><use href="#b5" transform="translate(273 11)rotate(18)scale(1.54)"/><use href="#b3" transform="translate(30 409)rotate(16)scale(1.40)"/><use href="#b1" transform="translate(2 114)rotate(96)scale(1.32)"/><ellipse cx="251" cy="193" rx="24" ry="17" fill="#6b5a4c" opacity=".35"/><ellipse cx="313" cy="195" rx="24" ry="17" fill="#6b5a4c" opacity=".35"/><ellipse cx="220" cy="217" rx="24" ry="17" fill="#6b5a4c" opacity=".35"/><ellipse cx="188" cy="234" rx="24" ry="17" fill="#6b5a4c" opacity=".35"/><ellipse cx="163" cy="276" rx="24" ry="17" fill="#6b5a4c" opacity=".35"/><ellipse cx="145" cy="317" rx="24" ry="17" fill="#6b5a4c" opacity=".35"/><ellipse cx="151" cy="386" rx="24" ry="17" fill="#6b5a4c" opacity=".35"/><ellipse cx="131" cy="440" rx="24" ry="17" fill="#6b5a4c" opacity=".35"/><ellipse cx="160" cy="461" rx="24" ry="17" fill="#6b5a4c" opacity=".35"/><ellipse cx="176" cy="494" rx="24" ry="17" fill="#6b5a4c" opacity=".35"/><ellipse cx="204" cy="522" rx="24" ry="17" fill="#6b5a4c" opacity=".35"/><ellipse cx="247" cy="513" rx="24" ry="17" fill="#6b5a4c" opacity=".35"/><ellipse cx="333" cy="529" rx="24" ry="17" fill="#6b5a4c" opacity=".35"/><ellipse cx="369" cy="508" rx="24" ry="17" fill="#6b5a4c" opacity=".35"/><ellipse cx="440" cy="447" rx="24" ry="17" fill="#6b5a4c" opacity=".35"/><ellipse cx="462" cy="397" rx="24" ry="17" fill="#6b5a4c" opacity=".35"/><ellipse cx="444" cy="265" rx="24" ry="17" fill="#6b5a4c" opacity=".35"/><ellipse cx="153" cy="350" rx="24" ry="17" fill="#6b5a4c" opacity=".35"/><ellipse cx="138" cy="415" rx="24" ry="17" fill="#6b5a4c" opacity=".35"/><ellipse cx="193" cy="475" rx="24" ry="17" fill="#6b5a4c" opacity=".35"/><ellipse cx="228" cy="495" rx="24" ry="17" fill="#6b5a4c" opacity=".35"/><ellipse cx="283" cy="525" rx="24" ry="17" fill="#6b5a4c" opacity=".35"/><ellipse cx="398" cy="485" rx="24" ry="17" fill="#6b5a4c" opacity=".35"/><ellipse cx="423" cy="470" rx="24" ry="17" fill="#6b5a4c" opacity=".35"/><ellipse cx="208" cy="255" rx="24" ry="17" fill="#6b5a4c" opacity=".35"/><ellipse cx="171" cy="305" rx="24" ry="17" fill="#6b5a4c" opacity=".35"/><ellipse cx="348" cy="520" rx="24" ry="17" fill="#6b5a4c" opacity=".35"/><use href="#b1" transform="translate(248 188)rotate(25)scale(1.38)"/><use href="#b5" transform="translate(310 190)rotate(73)scale(1.47)"/><use href="#b1" transform="translate(217 212)rotate(137)scale(1.49)"/><use href="#b1" transform="translate(185 229)rotate(42)scale(1.50)"/><use href="#b3" transform="translate(160 271)rotate(4)scale(1.26)"/><use href="#b1" transform="translate(142 312)rotate(103)scale(1.38)"/><use href="#b1" transform="translate(148 381)rotate(2)scale(1.37)"/><use href="#b1" transform="translate(128 435)rotate(32)scale(1.46)"/><use href="#b1" transform="translate(156 456)rotate(5)scale(1.27)"/><use href="#b2" transform="translate(173 489)rotate(129)scale(1.31)"/><use href="#b2" transform="translate(201 517)rotate(20)scale(1.25)"/><use href="#b3" transform="translate(244 508)rotate(41)scale(1.45)"/><use href="#b1" transform="translate(330 524)rotate(97)scale(1.26)"/><use href="#b3" transform="translate(366 503)rotate(119)scale(1.38)"/><use href="#b5" transform="translate(437 442)rotate(58)scale(1.30)"/><use href="#b1" transform="translate(458 392)rotate(163)scale(1.29)"/><use href="#b2" transform="translate(441 260)rotate(43)scale(1.30)"/><use href="#b1" transform="translate(150 345)rotate(34)scale(1.41)"/><use href="#b2" transform="translate(135 410)rotate(173)scale(1.26)"/><use href="#b1" transform="translate(190 470)rotate(74)scale(1.27)"/><use href="#b1" transform="translate(225 490)rotate(148)scale(1.41)"/><use href="#b1" transform="translate(280 520)rotate(159)scale(1.28)"/><use href="#b1" transform="translate(395 480)rotate(151)scale(1.49)"/><use href="#b2" transform="translate(420 465)rotate(172)scale(1.39)"/><use href="#b1" transform="translate(205 250)rotate(178)scale(1.32)"/><use href="#b1" transform="translate(168 300)rotate(24)scale(1.30)"/><use href="#b2" transform="translate(345 515)rotate(42)scale(1.45)"/><circle cx="310" cy="366.9" r="165.8" fill="url(#shd)"/><path d="M428 305L528 262" stroke="#dcd8d2" stroke-width="64" fill="none"/><path d="M428 302L528 259" stroke="#f6f5f2" stroke-width="54" fill="none"/><circle cx="302" cy="354.9" r="155.8" fill="url(#cupg)"/><circle cx="296.1" cy="360" r="124" fill="url(#cof)"/><ellipse cx="262" cy="438" rx="62" ry="34" fill="url(#hl)" transform="rotate(28 262 438)"/><ellipse cx="318" cy="318" rx="70" ry="46" fill="#b86a20" opacity=".25" transform="rotate(-30 318 318)"/></g></svg>
<div class="t " style="left:154.9px;top:106.7px;font:700 37px 'Liberation Sans',sans-serif;line-height:1;color:#000;-webkit-text-stroke:2.2px #000;transform:scaleX(0.9442);">44</div>
<div class="t " style="left:396.0px;top:76.6px;font:700 33px 'Liberation Sans',sans-serif;line-height:1;color:#111;-webkit-text-stroke:0.5px #111;transform:scaleX(0.9877);">vodič kroz kategoriju ...</div>
<div class="t " style="left:396.0px;top:110.6px;font:400 33px 'Liberation Sans',sans-serif;line-height:1;color:#727477;-webkit-text-stroke:0.7px #FAEADD;transform:scaleX(1.0061);">topli napitci</div>
<div class="t " style="left:150.4px;top:184.2px;font:700 79px 'Liberation Sans',sans-serif;line-height:1;color:#000;-webkit-text-stroke:1.6px #000;transform:scaleX(1.0660);">istraživanje</div>
<div class="t " style="left:155.7px;top:365.1px;font:400 52px 'Liberation Sans',sans-serif;line-height:1;color:#000;-webkit-text-stroke:1.3px #FAEADD;transform:scaleX(0.9774);">TOPLI NAPITCI</div>
<div class="t " style="left:146.8px;top:479.5px;font:700 184px 'Liberation Sans',sans-serif;line-height:1;color:#000;-webkit-text-stroke:10px #000;letter-spacing:5px;transform:scaleX(1.0349);">PL nezanemariv</div>
<div class="t " style="left:1804.5px;top:220.8px;font:700 34px 'Liberation Sans',sans-serif;line-height:1;color:#000;-webkit-text-stroke:1.5px #000;transform:scaleX(1.1263);">Autorica: Božana Lovaković,</div>
<div class="t " style="left:1785.5px;top:260.8px;font:400 37.6px 'Liberation Sans',sans-serif;line-height:1;color:#111;-webkit-text-stroke:0.6px #FAEADD;transform:scaleX(0.9400);">Client Business Partner, NielsenIQ</div>
<div class="t " style="left:1936.4px;top:371.6px;font:700 73px 'Liberation Sans',sans-serif;line-height:1;color:#111;transform:scaleX(1.1044);">Nielsen</div>
<div class="t " style="left:2232.9px;top:371.6px;font:700 73px 'Liberation Sans',sans-serif;line-height:1;color:#111;transform:scaleX(1.1000);">I</div>
<div class="t " style="left:2260.4px;top:371.6px;font:700 73px 'Liberation Sans',sans-serif;line-height:1;color:#111;transform:scaleX(1.1882);">Q</div>
<div class="t " style="left:154.1px;top:749.4px;font:400 53px 'Liberation Sans',sans-serif;line-height:1;color:#000;-webkit-text-stroke:0.9px #FAEADD;transform:scaleX(0.9675);">Grupa kategorija Topli napitci obuhvaća kategorije kave, čaja i kakaa. Uključuje mljevenu kavu,</div>
<div class="t " style="left:153.9px;top:814.2px;font:400 53px 'Liberation Sans',sans-serif;line-height:1;color:#000;-webkit-text-stroke:0.9px #FAEADD;transform:scaleX(0.9688);">kavu u zrnu, instant-kavu, <i>capuccino</i> 2u1, 3u1, instant-čajeve, voćne, biljne i funkcionalne</div>
<div class="t " style="left:155.6px;top:879.2px;font:400 53px 'Liberation Sans',sans-serif;line-height:1;color:#000;-webkit-text-stroke:0.9px #FAEADD;transform:scaleX(0.9604);">čajeve, zeleni i crni čaj, kakao u prahu, čokoladu u prahu te instant-kakao za pripremu</div>
<div class="t " style="left:156.0px;top:944.2px;font:400 53px 'Liberation Sans',sans-serif;line-height:1;color:#000;-webkit-text-stroke:0.9px #FAEADD;transform:scaleX(0.9544);"><i>milkshakea</i>.</div>
<div class="t " style="left:137.7px;top:1086.2px;font:400 243px 'Liberation Sans',sans-serif;line-height:1;color:#DE761C;-webkit-text-stroke:6px #DE761C;transform:scaleX(0.9549);">U</div>
<div class="t " style="left:315.9px;top:1114.5px;font:400 38px 'DejaVu Serif',serif;line-height:1;color:#111;-webkit-text-stroke:0.8px #111;word-spacing:11.87px;transform:scaleX(0.8350);">kupno kategorija to-</div>
<div class="t " style="left:315.9px;top:1161.8px;font:400 38px 'DejaVu Serif',serif;line-height:1;color:#111;-webkit-text-stroke:0.8px #111;word-spacing:1.91px;transform:scaleX(0.8350);">plih napitaka u 2020.</div>
<div class="t " style="left:315.9px;top:1211.8px;font:400 38px 'DejaVu Serif',serif;line-height:1;color:#111;-webkit-text-stroke:0.8px #111;word-spacing:2.58px;transform:scaleX(0.8350);">godini bilježi rast ko-</div>
<div class="t " style="left:315.9px;top:1261.8px;font:400 38px 'DejaVu Serif',serif;line-height:1;color:#111;-webkit-text-stroke:0.8px #111;word-spacing:3.37px;transform:scaleX(0.8350);">ličinske i vrijednosne</div>
<div class="t " style="left:154.0px;top:1311.8px;font:400 38px 'DejaVu Serif',serif;line-height:1;color:#111;-webkit-text-stroke:0.8px #111;word-spacing:-0.12px;transform:scaleX(0.8350);">prodaje. Najveći rast količinske</div>
<div class="t " style="left:154.0px;top:1361.8px;font:400 38px 'DejaVu Serif',serif;line-height:1;color:#111;-webkit-text-stroke:0.8px #111;word-spacing:24.21px;transform:scaleX(0.8350);">i vrijednosne prodaje bilježi</div>
<div class="t " style="left:154.0px;top:1411.8px;font:400 38px 'DejaVu Serif',serif;line-height:1;color:#111;-webkit-text-stroke:0.8px #111;word-spacing:6.73px;transform:scaleX(0.8350);">čaj, kava bilježi manji rast ko-</div>
<div class="t " style="left:154.0px;top:1461.8px;font:400 38px 'DejaVu Serif',serif;line-height:1;color:#111;-webkit-text-stroke:0.8px #111;word-spacing:10.54px;transform:scaleX(0.8350);">ličinske i vrijednosne prodaje,</div>
<div class="t " style="left:154.0px;top:1511.8px;font:400 38px 'DejaVu Serif',serif;line-height:1;color:#111;-webkit-text-stroke:0.8px #111;word-spacing:3.41px;transform:scaleX(0.8350);">dok kakao bilježi rast vrijedno-</div>
<div class="t " style="left:153.1px;top:1561.8px;font:400 38px 'DejaVu Serif',serif;line-height:1;color:#111;-webkit-text-stroke:0.8px #111;transform:scaleX(0.8350);">sne i pad količinske prodaje.</div>
<div class="t " style="left:154.0px;top:1634.5px;font:400 38px 'DejaVu Serif',serif;line-height:1;color:#111;-webkit-text-stroke:0.8px #111;word-spacing:9.16px;transform:scaleX(0.8350);">Moderni formati, u koje ulaze</div>
<div class="t " style="left:154.0px;top:1684.9px;font:400 38px 'DejaVu Serif',serif;line-height:1;color:#111;-webkit-text-stroke:0.8px #111;word-spacing:14.21px;transform:scaleX(0.8350);">hipermarketi (&gt;2500m<sup>2</sup>) i su-</div>
<div class="t " style="left:154.0px;top:1735.3px;font:400 38px 'DejaVu Serif',serif;line-height:1;color:#111;-webkit-text-stroke:0.8px #111;word-spacing:8.31px;transform:scaleX(0.8350);">permarketi (301-2500m<sup>2</sup>), pro-</div>
<div class="t " style="left:154.0px;top:1785.7px;font:400 38px 'DejaVu Serif',serif;line-height:1;color:#111;-webkit-text-stroke:0.8px #111;word-spacing:-2.27px;transform:scaleX(0.8350);">daju najviše toplih napitaka, i to</div>
<div class="t " style="left:155.6px;top:1836.1px;font:400 38px 'DejaVu Serif',serif;line-height:1;color:#111;-webkit-text-stroke:0.8px #111;word-spacing:2.16px;transform:scaleX(0.8350);">više od polovice ukupne vrijed-</div>
<div class="t " style="left:708.2px;top:1114.5px;font:400 38px 'DejaVu Serif',serif;line-height:1;color:#111;-webkit-text-stroke:0.8px #111;word-spacing:5.06px;transform:scaleX(0.8350);">nosne prodaje (65%). Trgovine</div>
<div class="t " style="left:708.2px;top:1162.9px;font:400 38px 'DejaVu Serif',serif;line-height:1;color:#111;-webkit-text-stroke:0.8px #111;word-spacing:23.09px;transform:scaleX(0.8350);">mješovitom robom (&lt;300m<sup>2</sup>),</div>
<div class="t " style="left:708.2px;top:1211.3px;font:400 38px 'DejaVu Serif',serif;line-height:1;color:#111;-webkit-text-stroke:0.8px #111;word-spacing:18.59px;transform:scaleX(0.8350);">odnosno tradicionalni formati</div>
<div class="t " style="left:708.2px;top:1259.7px;font:400 38px 'DejaVu Serif',serif;line-height:1;color:#111;-webkit-text-stroke:0.8px #111;word-spacing:5.80px;transform:scaleX(0.8350);">trgovina nose manji udio, 34%</div>
<div class="t " style="left:709.8px;top:1308.1px;font:400 38px 'DejaVu Serif',serif;line-height:1;color:#111;-webkit-text-stroke:0.8px #111;word-spacing:11.06px;transform:scaleX(0.8350);">vrijednosne prodaje, dok kroz</div>
<div class="t " style="left:708.2px;top:1356.5px;font:400 38px 'DejaVu Serif',serif;line-height:1;color:#111;-webkit-text-stroke:0.8px #111;word-spacing:10.55px;transform:scaleX(0.8350);"><i>convenience</i> kanal, u koji pri-</div>
<div class="t " style="left:708.2px;top:1405.0px;font:400 38px 'DejaVu Serif',serif;line-height:1;color:#111;-webkit-text-stroke:0.8px #111;word-spacing:0.64px;transform:scaleX(0.8350);">padaju kiosci i trgovine na ben-</div>
<div class="t " style="left:708.2px;top:1453.4px;font:400 38px 'DejaVu Serif',serif;line-height:1;color:#111;-webkit-text-stroke:0.8px #111;word-spacing:2.06px;transform:scaleX(0.8350);">zinskim postajama, odlazi 0,7%</div>
<div class="t " style="left:708.2px;top:1501.8px;font:400 38px 'DejaVu Serif',serif;line-height:1;color:#111;-webkit-text-stroke:0.8px #111;word-spacing:4.40px;transform:scaleX(0.8350);">ukupne vrijednosne prodaje ci-</div>
<div class="t " style="left:712.3px;top:1550.2px;font:400 38px 'DejaVu Serif',serif;line-height:1;color:#111;-webkit-text-stroke:0.8px #111;transform:scaleX(0.8350);">jele kategorije.</div>
<div class="t " style="left:1264.2px;top:1114.5px;font:400 38px 'DejaVu Serif',serif;line-height:1;color:#111;-webkit-text-stroke:0.8px #111;word-spacing:5.75px;transform:scaleX(0.8350);">U posljednjih godinu dana, za-</div>
<div class="t " style="left:1264.2px;top:1162.9px;font:400 38px 'DejaVu Serif',serif;line-height:1;color:#111;-webkit-text-stroke:0.8px #111;word-spacing:7.50px;transform:scaleX(0.8350);">ključno s prosincem 2020. go-</div>
<div class="t " style="left:1264.2px;top:1211.3px;font:400 38px 'DejaVu Serif',serif;line-height:1;color:#111;-webkit-text-stroke:0.8px #111;word-spacing:1.99px;transform:scaleX(0.8350);">dine, promatrajući vrijednosno,</div>
<div class="t " style="left:1265.8px;top:1259.7px;font:400 38px 'DejaVu Serif',serif;line-height:1;color:#111;-webkit-text-stroke:0.8px #111;word-spacing:-1.67px;transform:scaleX(0.8350);">vodeća tri proizvođača zastupa-</div>
<div class="t " style="left:1264.2px;top:1308.1px;font:400 38px 'DejaVu Serif',serif;line-height:1;color:#111;-webkit-text-stroke:0.8px #111;word-spacing:6.50px;transform:scaleX(0.8350);">la su 63% vrijednosne prodaje</div>
<div class="t " style="left:1264.2px;top:1356.5px;font:400 38px 'DejaVu Serif',serif;line-height:1;color:#111;-webkit-text-stroke:0.8px #111;word-spacing:9.66px;transform:scaleX(0.8350);">u cjelokupnoj kategoriji toplih</div>
<div class="t " style="left:1264.2px;top:1405.0px;font:400 38px 'DejaVu Serif',serif;line-height:1;color:#111;-webkit-text-stroke:0.8px #111;word-spacing:5.49px;transform:scaleX(0.8350);">napitaka. Abecednim redoslije-</div>
<div class="t " style="left:1264.2px;top:1453.4px;font:400 38px 'DejaVu Serif',serif;line-height:1;color:#111;-webkit-text-stroke:0.8px #111;word-spacing:3.25px;transform:scaleX(0.8350);">dom oni su: Anamarija, Franck</div>
<div class="t " style="left:1264.2px;top:1501.8px;font:400 38px 'DejaVu Serif',serif;line-height:1;color:#111;-webkit-text-stroke:0.8px #111;word-spacing:3.50px;transform:scaleX(0.8350);">i Nestlé. Privatne robne marke</div>
<div class="t " style="left:1264.2px;top:1550.2px;font:400 38px 'DejaVu Serif',serif;line-height:1;color:#111;-webkit-text-stroke:0.8px #111;transform:scaleX(0.8049);">nose 6,7% vrijednosnog udjela.</div>
<div class="t " style="left:742.5px;top:1655.4px;font:400 41px 'Liberation Sans',sans-serif;line-height:1;color:#fff;-webkit-text-stroke:1.0px #fff;transform:scaleX(1.0151);">Najveći segment u kategoriji čini kava, s više od 80%</div>
<div class="t " style="left:745.5px;top:1718.4px;font:400 41px 'Liberation Sans',sans-serif;line-height:1;color:#fff;-webkit-text-stroke:1.0px #fff;transform:scaleX(1.0088);">vrijednosnog udjela. Slijedi čaj, dok je kakao najmanji</div>
<div class="t " style="left:744.5px;top:1781.4px;font:400 41px 'Liberation Sans',sans-serif;line-height:1;color:#fff;-webkit-text-stroke:1.0px #fff;">segment.</div>
<div class="t " style="left:1042.0px;top:2005.2px;font:700 53px 'Liberation Sans',sans-serif;line-height:1;color:#000;-webkit-text-stroke:3px #000;letter-spacing:1.5px;transform:scaleX(0.9975);">TOPLI NAPITCI</div>
<div class="t " style="left:272.5px;top:2246.4px;font:400 42.3px 'Liberation Sans',sans-serif;line-height:1;color:#111;-webkit-text-stroke:0.9px #111;transform:scaleX(0.9118);">VRIJEDNOSNI UDIO</div>
<div class="t " style="left:247.3px;top:2299.9px;font:400 42.3px 'Liberation Sans',sans-serif;line-height:1;color:#111;-webkit-text-stroke:0.9px #111;transform:scaleX(0.9105);">KANALA PRODAJE (%)</div>
<div class="t " style="left:425.3px;top:2504.0px;font:400 47.8px 'Liberation Sans',sans-serif;line-height:1;color:#fff;-webkit-text-stroke:1.5px #fff;transform:scaleX(0.8492);">1%</div>
<div class="t " style="left:284.3px;top:2577.5px;font:400 47.8px 'Liberation Sans',sans-serif;line-height:1;color:#111;-webkit-text-stroke:1.5px #111;transform:scaleX(0.9106);">34%</div>
<div class="t " style="left:520.6px;top:2699.4px;font:400 47.8px 'Liberation Sans',sans-serif;line-height:1;color:#111;-webkit-text-stroke:1.5px #111;transform:scaleX(0.9409);">65%</div>
<div class="t " style="left:803.6px;top:2490.0px;font:400 32px 'Liberation Sans',sans-serif;line-height:1;color:#111;-webkit-text-stroke:0.9px #111;transform:scaleX(0.8932);">MODERNI</div>
<div class="t " style="left:803.6px;top:2530.2px;font:400 32px 'Liberation Sans',sans-serif;line-height:1;color:#111;-webkit-text-stroke:0.9px #111;transform:scaleX(0.9109);">FORMATI</div>
<div class="t " style="left:804.5px;top:2654.8px;font:400 32px 'Liberation Sans',sans-serif;line-height:1;color:#111;-webkit-text-stroke:0.9px #111;transform:scaleX(0.9037);">TRADICIONALNI</div>
<div class="t " style="left:803.6px;top:2695.1px;font:400 32px 'Liberation Sans',sans-serif;line-height:1;color:#111;-webkit-text-stroke:0.9px #111;transform:scaleX(0.9109);">FORMATI</div>
<div class="t " style="left:804.5px;top:2819.7px;font:400 32px 'Liberation Sans',sans-serif;line-height:1;color:#111;-webkit-text-stroke:0.9px #111;transform:scaleX(0.8878);">"CONVENIENCE"</div>
<div class="t " style="left:803.6px;top:2859.9px;font:400 32px 'Liberation Sans',sans-serif;line-height:1;color:#111;-webkit-text-stroke:0.9px #111;transform:scaleX(0.9109);">FORMATI</div>
<div class="t " style="left:1212.1px;top:2126.4px;font:400 39.4px 'Liberation Sans',sans-serif;line-height:1;color:#111;-webkit-text-stroke:0.9px #111;transform:scaleX(0.8868);">STRUKTURA PRODAJE</div>
<div class="t " style="left:1296.9px;top:2176.1px;font:400 39.4px 'Liberation Sans',sans-serif;line-height:1;color:#111;-webkit-text-stroke:0.9px #111;transform:scaleX(0.9162);">SEGMENATA</div>
<div class="t " style="left:1203.4px;top:2274.8px;font:400 32.4px 'Liberation Sans',sans-serif;line-height:1;color:#111;-webkit-text-stroke:0.9px #111;transform:scaleX(1.0112);">KAVA</div>
<div class="t " style="left:1364.6px;top:2274.8px;font:400 32.4px 'Liberation Sans',sans-serif;line-height:1;color:#111;-webkit-text-stroke:0.9px #111;transform:scaleX(0.9679);">KAKAO</div>
<div class="t " style="left:1557.9px;top:2274.8px;font:400 32.4px 'Liberation Sans',sans-serif;line-height:1;color:#111;-webkit-text-stroke:0.9px #111;transform:scaleX(1.0517);">ČAJ</div>
<div class="t " style="left:1220.7px;top:2383.6px;font:400 34px 'Liberation Sans',sans-serif;line-height:1;color:#fff;-webkit-text-stroke:1.5px #fff;transform:scaleX(0.9041);">4%</div>
<div class="t " style="left:1219.7px;top:2419.0px;font:400 34px 'Liberation Sans',sans-serif;line-height:1;color:#111;-webkit-text-stroke:1.5px #111;transform:scaleX(0.9542);">6%</div>
<div class="t " style="left:1209.1px;top:2716.7px;font:400 35.5px 'Liberation Sans',sans-serif;line-height:1;color:#111;-webkit-text-stroke:1.5px #111;transform:scaleX(0.9286);">89%</div>
<div class="t " style="left:1535.2px;top:2403.0px;font:400 35.5px 'Liberation Sans',sans-serif;line-height:1;color:#fff;-webkit-text-stroke:1.5px #fff;transform:scaleX(0.9130);">13%</div>
<div class="t " style="left:1540.0px;top:2461.8px;font:400 34px 'Liberation Sans',sans-serif;line-height:1;color:#111;-webkit-text-stroke:1.5px #111;transform:scaleX(0.8980);">4%</div>
<div class="t " style="left:1529.1px;top:2735.8px;font:400 35.5px 'Liberation Sans',sans-serif;line-height:1;color:#111;-webkit-text-stroke:1.5px #111;transform:scaleX(0.9386);">83%</div>
<div class="t " style="left:1133.2px;top:3039.2px;font:400 31px 'Liberation Sans',sans-serif;line-height:1;color:#111;-webkit-text-stroke:0.9px #111;transform:scaleX(0.9080);">Količinski udio (%)</div>
<div class="t " style="left:1445.0px;top:3039.2px;font:400 31px 'Liberation Sans',sans-serif;line-height:1;color:#111;-webkit-text-stroke:0.9px #111;transform:scaleX(0.9095);">Vrijednosni udio (%)</div>
<div class="t " style="left:1911.3px;top:2213.9px;font:400 36.5px 'Liberation Sans',sans-serif;line-height:1;color:#111;-webkit-text-stroke:0.9px #111;transform:scaleX(0.9208);">VRIJEDNOSNI UDIO</div>
<div class="t " style="left:1986.8px;top:2259.8px;font:400 36.5px 'Liberation Sans',sans-serif;line-height:1;color:#111;-webkit-text-stroke:0.9px #111;transform:scaleX(0.9265);">VODEĆA 3</div>
<div class="t " style="left:1951.4px;top:2306.2px;font:400 36.5px 'Liberation Sans',sans-serif;line-height:1;color:#111;-webkit-text-stroke:0.9px #111;transform:scaleX(0.9190);">PROIZVOĐAČA</div>
<div class="t " style="left:1905.0px;top:2521.1px;font:400 42.5px 'Liberation Sans',sans-serif;line-height:1;color:#111;-webkit-text-stroke:1.5px #111;transform:scaleX(0.8988);">41%</div>
<div class="t " style="left:2180.1px;top:2617.3px;font:400 42.5px 'Liberation Sans',sans-serif;line-height:1;color:#111;-webkit-text-stroke:1.5px #111;transform:scaleX(0.9084);">63%</div>
<div class="t " style="left:1874.4px;top:2832.0px;font:400 31px 'Liberation Sans',sans-serif;line-height:1;color:#111;-webkit-text-stroke:0.9px #111;transform:scaleX(0.9162);">VODEĆA 3</div>
<div class="t " style="left:1872.6px;top:2872.5px;font:400 31px 'Liberation Sans',sans-serif;line-height:1;color:#111;-webkit-text-stroke:0.9px #111;transform:scaleX(0.9045);">PROIZVOĐAČA</div>
<div class="t " style="left:2176.5px;top:2832.0px;font:400 31px 'Liberation Sans',sans-serif;line-height:1;color:#111;-webkit-text-stroke:0.9px #111;transform:scaleX(0.9529);">OSTALI</div>
<div class="t " style="left:738.0px;top:3139.4px;font:400 37.3px 'Liberation Sans',sans-serif;line-height:1;color:#111;-webkit-text-stroke:0.6px #111;transform:scaleX(1.0038);">Analizirano razdoblje: kumulativ siječanj 2020. – prosinac 2020.</div>
<div class="t " style="left:807.0px;top:3184.2px;font:400 37.3px 'Liberation Sans',sans-serif;line-height:1;color:#111;-webkit-text-stroke:0.6px #111;transform:scaleX(1.0071);">Moderni formati: hipermarketi, supermarketi (&gt; 301 m<sup>2</sup>)</div>
<div class="t " style="left:673.3px;top:3228.7px;font:400 37.3px 'Liberation Sans',sans-serif;line-height:1;color:#111;-webkit-text-stroke:0.6px #111;transform:scaleX(1.0098);">Tradicionalni formati: trgovine mješovitom robom (&lt; 300 m<sup>2</sup>) + drogerije</div>
<div class="t " style="left:867.6px;top:3274.0px;font:400 37.3px 'Liberation Sans',sans-serif;line-height:1;color:#111;-webkit-text-stroke:0.6px #111;transform:scaleX(1.0041);"><i>Convenience</i> kanali – benzinske postaje i kiosci</div>
<div class="t " style="left:691.7px;top:3143.5px;font:400 33px 'Liberation Sans',sans-serif;line-height:1;color:#111;">•</div>
<div class="t " style="left:762.9px;top:3188.3px;font:400 33px 'Liberation Sans',sans-serif;line-height:1;color:#111;">•</div>
<div class="t " style="left:623.6px;top:3232.8px;font:400 33px 'Liberation Sans',sans-serif;line-height:1;color:#111;">•</div>
<div class="t " style="left:824.1px;top:3278.1px;font:400 33px 'Liberation Sans',sans-serif;line-height:1;color:#111;">•</div>
</body></html>
